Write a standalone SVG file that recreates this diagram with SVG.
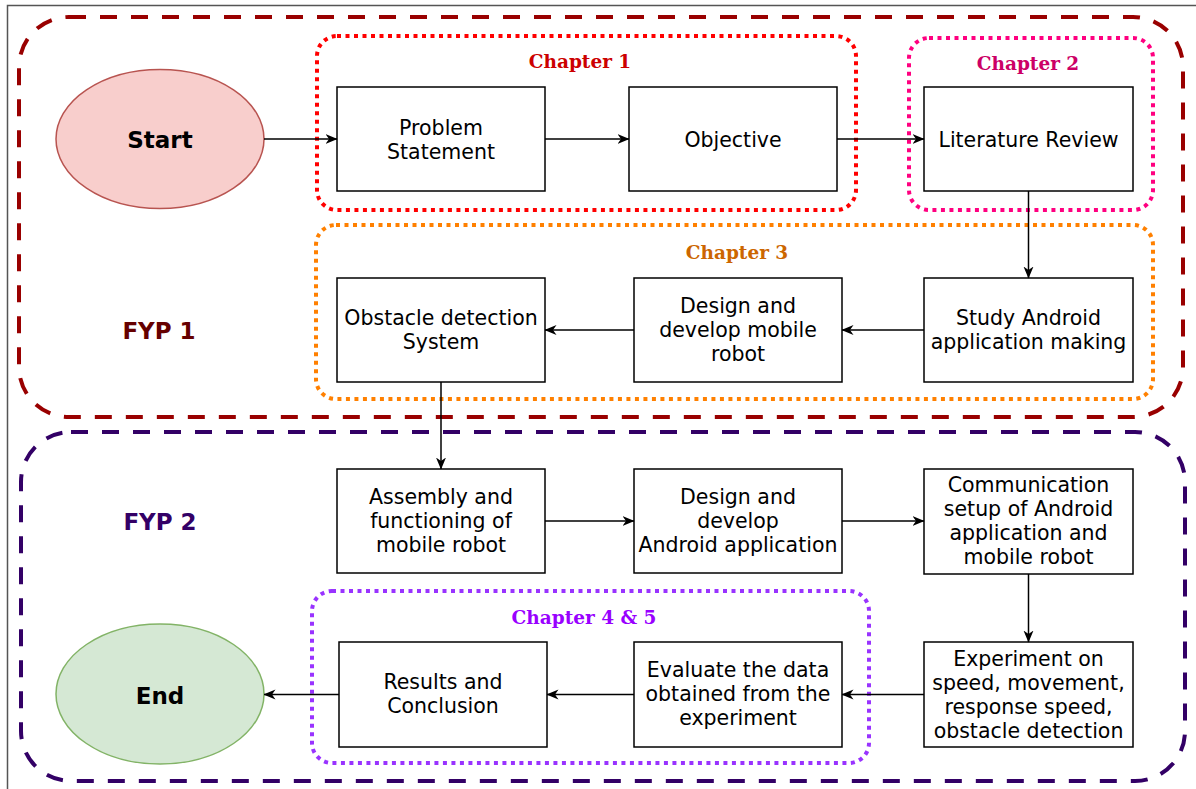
<svg xmlns="http://www.w3.org/2000/svg" width="1196" height="789" viewBox="0 0 1196 789">
<defs>
<marker id="arr" viewBox="0 0 12 11" refX="11.5" refY="5.5" markerWidth="12" markerHeight="11" markerUnits="userSpaceOnUse" orient="auto">
<path d="M0,0.5 L12,5.5 L0,10.5 L3.5,5.5 Z" fill="#000"/>
</marker>
<style>
.box{fill:#fff;stroke:#000;stroke-width:1.5}
.t{font-family:"DejaVu Sans",Verdana,sans-serif;font-size:20.5px;fill:#000;text-anchor:middle}
.big{font-family:"DejaVu Sans",Verdana,sans-serif;font-weight:bold;text-anchor:middle}
.ch{font-family:"DejaVu Serif",Georgia,serif;font-weight:bold;font-size:18.5px;text-anchor:middle}
.fyp{fill:none;stroke-width:4;stroke-dasharray:17 14}
.dot{fill:none;stroke-width:4;stroke-dasharray:4 4.5}
.c{fill:none;stroke:#000;stroke-width:1.5;marker-end:url(#arr)}
</style>
</defs>
<rect x="0" y="0" width="1196" height="789" fill="#fff"/>
<rect x="7.5" y="5.5" width="1200" height="800" fill="none" stroke="#555" stroke-width="1.5"/>

<g id="fyp1-group">
<rect class="fyp" x="19" y="17" width="1164" height="400" rx="50" ry="50" stroke="#990000"/>
<text class="big" x="159" y="339" font-size="23" fill="#660000">FYP 1</text>
</g>
<g id="fyp2-group">
<rect class="fyp" x="21" y="432" width="1164" height="349" rx="50" ry="50" stroke="#330066"/>
<text class="big" x="160" y="530" font-size="23" fill="#330066">FYP 2</text>
</g>

<g id="chapter1">
<rect class="dot" x="317" y="36" width="539" height="174" rx="20" ry="20" stroke="#ff0000"/>
<text class="ch" x="580" y="68" fill="#cc0000">Chapter 1</text>
</g>
<g id="chapter2">
<rect class="dot" x="909" y="38" width="244" height="172" rx="20" ry="20" stroke="#ff0080"/>
<text class="ch" x="1028" y="70" fill="#cc0066">Chapter 2</text>
</g>
<g id="chapter3">
<rect class="dot" x="316" y="225" width="837" height="174" rx="20" ry="20" stroke="#ff8000"/>
<text class="ch" x="737" y="259" fill="#cc6600">Chapter 3</text>
</g>
<g id="chapter45">
<rect class="dot" x="312" y="591" width="557" height="172" rx="20" ry="20" stroke="#9933ff"/>
<text class="ch" x="584" y="624" fill="#9900ff">Chapter 4 &amp; 5</text>
</g>

<g id="start">
<ellipse cx="160" cy="139" rx="104" ry="69.5" fill="#f8cecc" stroke="#b85450" stroke-width="1.5"/>
<text class="big" x="160" y="148" font-size="23" fill="#000">Start</text>
</g>
<g id="end">
<ellipse cx="160" cy="694" rx="104" ry="70" fill="#d5e8d4" stroke="#82b366" stroke-width="1.5"/>
<text class="big" x="160" y="704" font-size="23" fill="#000">End</text>
</g>

<g id="problem-statement">
<rect class="box" x="337" y="87" width="208" height="104"/>
<text class="t" x="441" y="135">Problem</text>
<text class="t" x="441" y="159">Statement</text>
</g>
<g id="objective">
<rect class="box" x="629" y="87" width="208" height="104"/>
<text class="t" x="733" y="147">Objective</text>
</g>
<g id="literature-review">
<rect class="box" x="924" y="87" width="209" height="104"/>
<text class="t" x="1028.5" y="147">Literature Review</text>
</g>
<g id="obstacle-detection">
<rect class="box" x="337" y="278" width="208" height="104"/>
<text class="t" x="441" y="325">Obstacle detection</text>
<text class="t" x="441" y="349">System</text>
</g>
<g id="design-robot">
<rect class="box" x="634" y="278" width="208" height="104"/>
<text class="t" x="738" y="313">Design and</text>
<text class="t" x="738" y="337">develop mobile</text>
<text class="t" x="738" y="361">robot</text>
</g>
<g id="study-android">
<rect class="box" x="924" y="278" width="209" height="104"/>
<text class="t" x="1028.5" y="325">Study Android</text>
<text class="t" x="1028.5" y="349">application making</text>
</g>
<g id="assembly">
<rect class="box" x="337" y="469" width="208" height="104"/>
<text class="t" x="441" y="504">Assembly and</text>
<text class="t" x="441" y="528">functioning of</text>
<text class="t" x="441" y="552">mobile robot</text>
</g>
<g id="design-android">
<rect class="box" x="634" y="469" width="208" height="104"/>
<text class="t" x="738" y="504">Design and</text>
<text class="t" x="738" y="528">develop</text>
<text class="t" x="738" y="552">Android application</text>
</g>
<g id="communication">
<rect class="box" x="924" y="469" width="209" height="105"/>
<text class="t" x="1028.5" y="492">Communication</text>
<text class="t" x="1028.5" y="516">setup of Android</text>
<text class="t" x="1028.5" y="540">application and</text>
<text class="t" x="1028.5" y="564">mobile robot</text>
</g>
<g id="experiment">
<rect class="box" x="924" y="642" width="209" height="105"/>
<text class="t" x="1028.5" y="666">Experiment on</text>
<text class="t" x="1028.5" y="690">speed, movement,</text>
<text class="t" x="1028.5" y="714">response speed,</text>
<text class="t" x="1028.5" y="738">obstacle detection</text>
</g>
<g id="evaluate">
<rect class="box" x="634" y="642" width="208" height="105"/>
<text class="t" x="738" y="677">Evaluate the data</text>
<text class="t" x="738" y="701">obtained from the</text>
<text class="t" x="738" y="725">experiment</text>
</g>
<g id="results">
<rect class="box" x="339" y="642" width="208" height="105"/>
<text class="t" x="443" y="689">Results and</text>
<text class="t" x="443" y="713">Conclusion</text>
</g>

<g id="connectors">
<line class="c" x1="264" y1="139" x2="337" y2="139"/>
<line class="c" x1="545" y1="139" x2="629" y2="139"/>
<line class="c" x1="837" y1="139" x2="924" y2="139"/>
<line class="c" x1="1028.5" y1="191" x2="1028.5" y2="278"/>
<line class="c" x1="924" y1="330" x2="842" y2="330"/>
<line class="c" x1="634" y1="330" x2="545" y2="330"/>
<line class="c" x1="441" y1="382" x2="441" y2="469"/>
<line class="c" x1="545" y1="521" x2="634" y2="521"/>
<line class="c" x1="842" y1="521" x2="924" y2="521"/>
<line class="c" x1="1028.5" y1="574" x2="1028.5" y2="642"/>
<line class="c" x1="924" y1="694.5" x2="842" y2="694.5"/>
<line class="c" x1="634" y1="694.5" x2="547" y2="694.5"/>
<line class="c" x1="339" y1="694.5" x2="264" y2="694.5"/>
</g>
</svg>
